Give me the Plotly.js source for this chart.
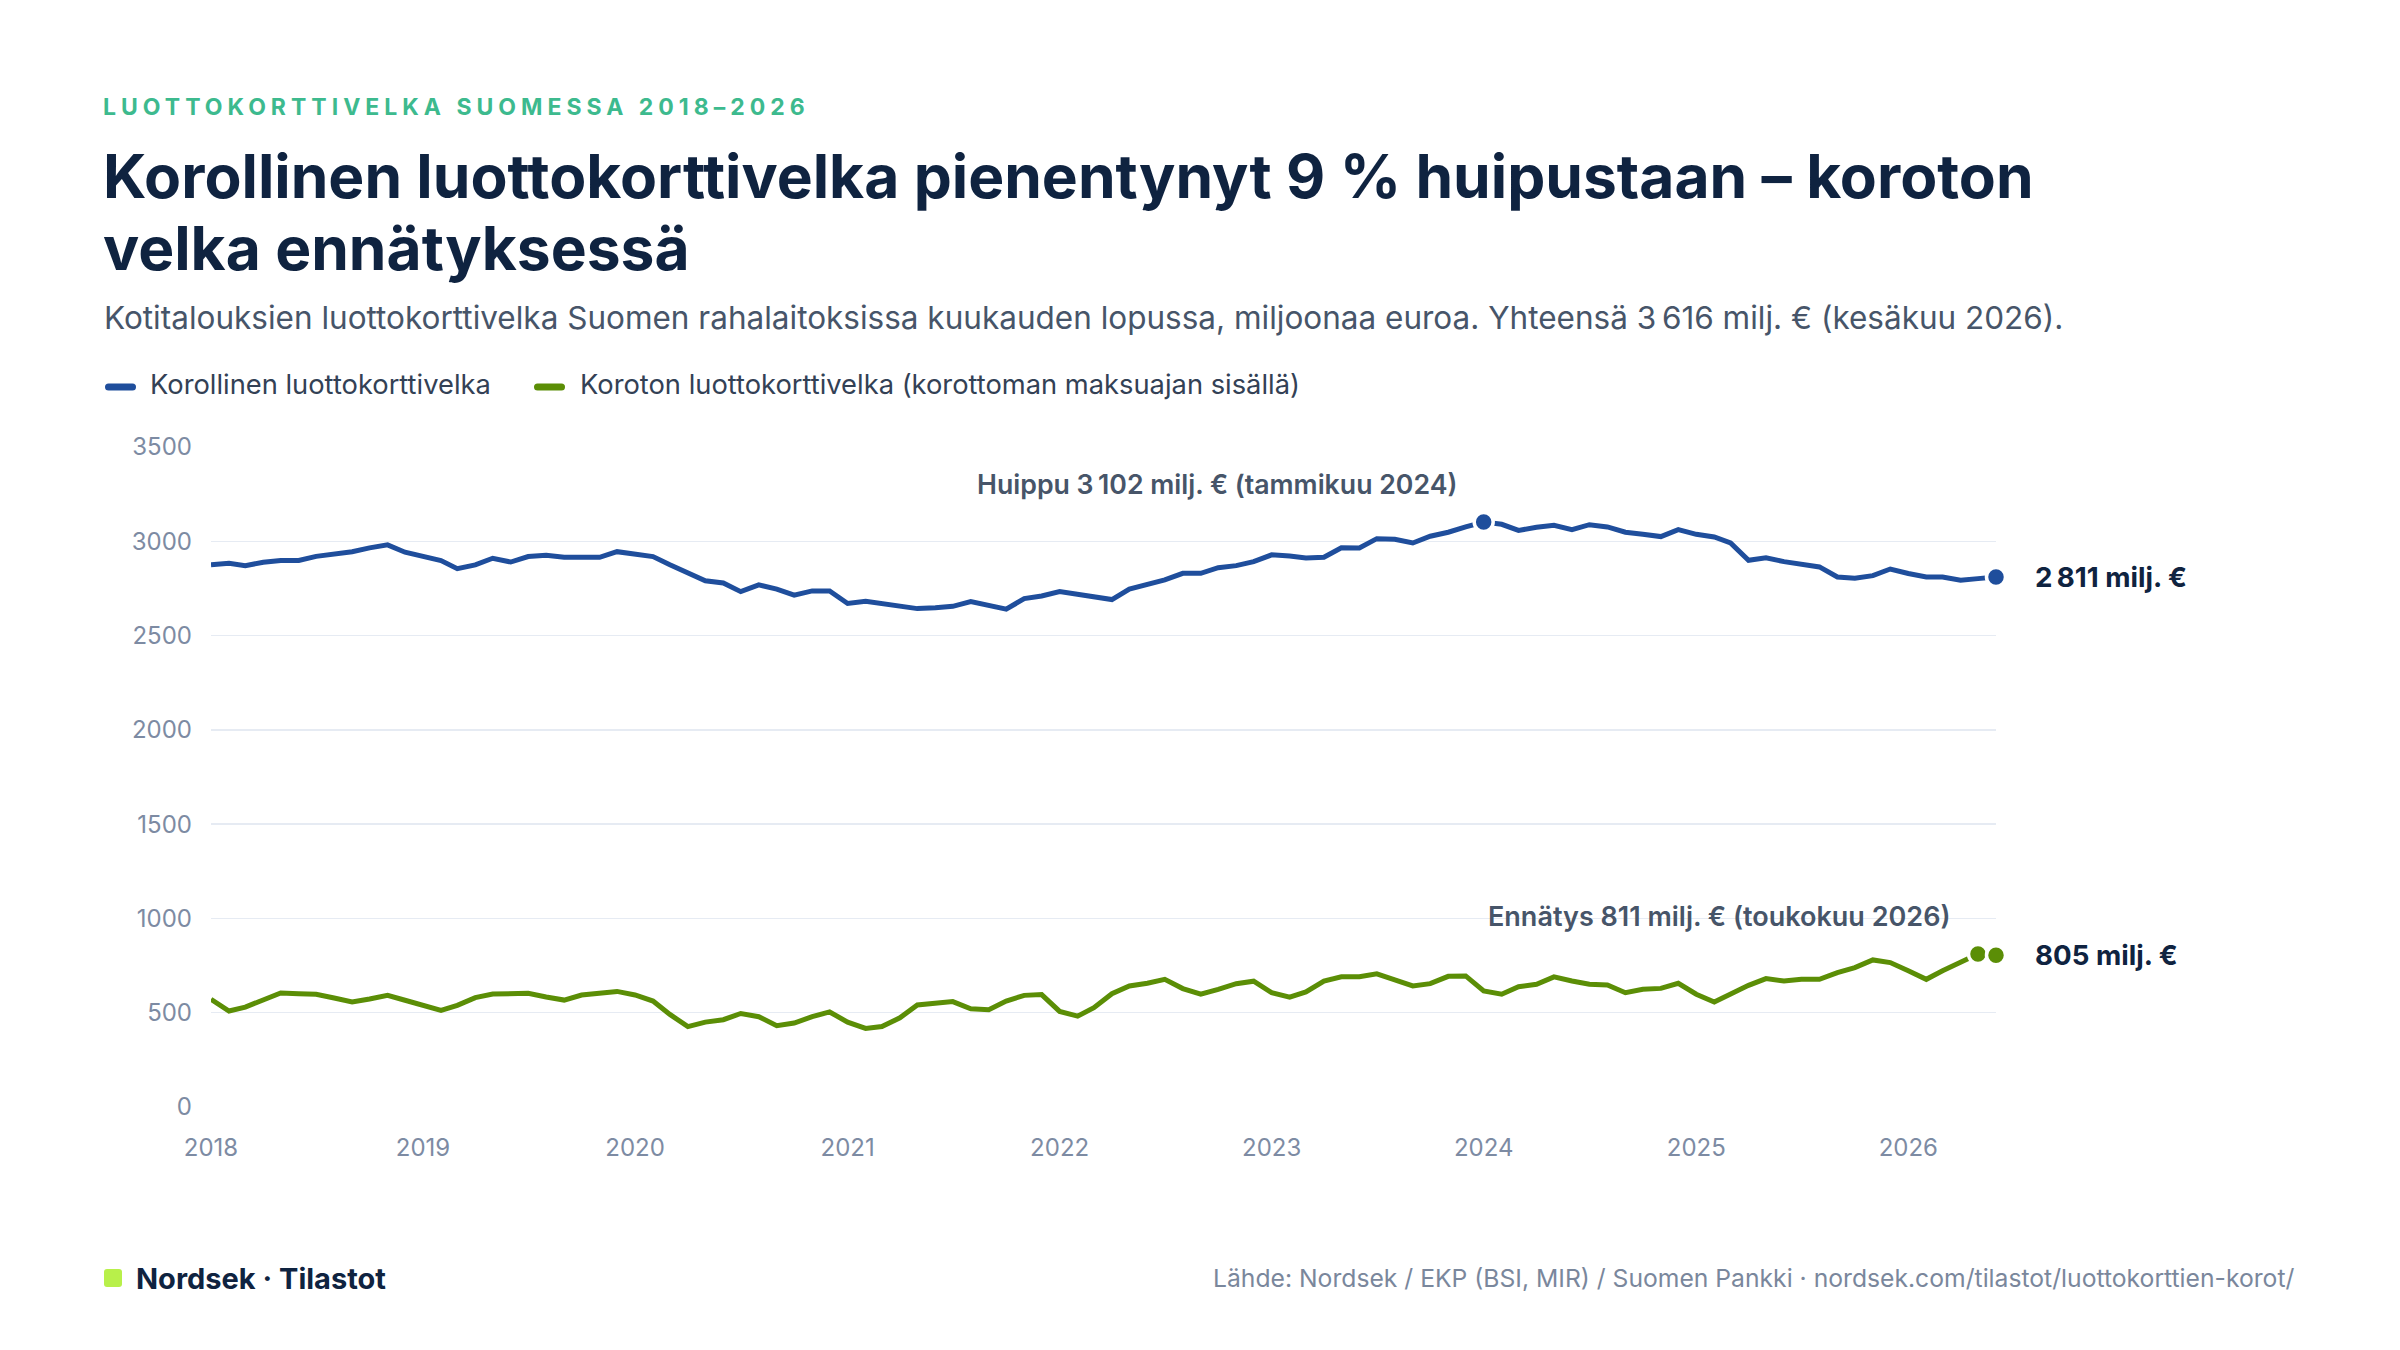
<!DOCTYPE html>
<html>
<head>
<meta charset="utf-8">
<script src="https://cdn.plot.ly/plotly-3.0.1.min.js"></script>
<style>
  html, body { margin: 0; padding: 0; background: #ffffff; }
  #chart { width: 2400px; height: 1350px; }
  .annotation[data-index="0"] text { letter-spacing: 5px; }
</style>
</head>
<body>
<div id="chart"></div>
<script>
// ---- Data (monthly, end of month, million EUR) ----
var startYear = 2018, startMonth = 1, monthCount = 102;  // 2018-01 ... 2026-06
var months = [];
for (var i = 0; i < monthCount; i++) {
  var y = startYear + Math.floor((startMonth - 1 + i) / 12);
  var m = ((startMonth - 1 + i) % 12) + 1;
  months.push(y + '-' + (m < 10 ? '0' + m : m) + '-01');
}

var interestBearing = [
  2876, 2883, 2871, 2889, 2898, 2898, 2920, 2931, 2945, 2965, 2981, 2942,
  2917, 2898, 2855, 2875, 2910, 2890, 2919, 2926, 2915, 2912, 2915, 2945,
  2929, 2919, 2876, 2830, 2791, 2779, 2733, 2769, 2746, 2714, 2737, 2737,
  2670, 2682, 2668, 2652, 2643, 2647, 2655, 2680, 2661, 2640, 2696, 2710,
  2733, 2719, 2705, 2691, 2747, 2769, 2795, 2830, 2830, 2860, 2871, 2892,
  2928, 2922, 2912, 2915, 2966, 2965, 3014, 3011, 2991, 3027, 3048, 3076,
  3102, 3090, 3058, 3074, 3085, 3062, 3088, 3076, 3048, 3037, 3025, 3062,
  3037, 3023, 2991, 2899, 2913, 2892, 2875, 2864, 2811, 2804, 2818, 2853,
  2829, 2811, 2811, 2793, 2802, 2811
];

var interestFree = [
  571, 509, 530, 571, 605, 601, 598, 578, 557, 573, 592, 566,
  539, 512, 539, 580, 599, 601, 603, 583, 567, 594, 606, 613,
  594, 562, 491, 426, 450, 463, 496, 479, 431, 445, 479, 504,
  450, 417, 427, 473, 541, 553, 559, 521, 516, 562, 592, 596,
  507, 482, 527, 601, 642, 656, 677, 628, 598, 624, 654, 667,
  606, 583, 610, 668, 691, 691, 706, 674, 642, 654, 693, 695,
  615, 598, 638, 651, 690, 668, 651, 647, 606, 624, 629, 656,
  598, 557, 601, 645, 681, 668, 677, 677, 713, 739, 780, 766,
  722, 677, 722, 766, 811, 805
];

var seriesNames = ['Korollinen luottokorttivelka', 'Koroton luottokorttivelka (korottoman maksuajan sisällä)'];
var monthNamesFi = ['tammikuu','helmikuu','maaliskuu','huhtikuu','toukokuu','kesäkuu','heinäkuu','elokuu','syyskuu','lokakuu','marraskuu','joulukuu'];
var yTicks = [0, 500, 1000, 1500, 2000, 2500, 3000, 3500];

// ---- Derived ----
function fmt(v) {
  var s = String(Math.round(v));
  return s.length > 3 ? s.slice(0, s.length - 3) + '\u202f' + s.slice(-3) : s;
}
function monthLabel(d) {
  var p = d.split('-');
  return monthNamesFi[parseInt(p[1], 10) - 1] + ' ' + p[0];
}
var last = monthCount - 1;
var peakIdx = interestBearing.indexOf(Math.max.apply(null, interestBearing));
var recIdx = interestFree.indexOf(Math.max.apply(null, interestFree));
var total = interestBearing[last] + interestFree[last];

var BLUE = '#1f4e9c', GREEN = '#5b8e06', NAVY = '#0f2340', SLATE = '#475569', TICK = '#7d8ba3';
var FONT = 'Inter, "Noto Sans", sans-serif';

// plot area in pixels
var L = 211, R = 1996, T = 447, B = 1107;
function px(xp) { return (xp - L) / (R - L); }
function py(yp) { return (B - yp) / (B - T); }

// rounded rectangle path in paper coordinates (pixel inputs)
function roundRect(x0, y0, x1, y1, r) {
  var X0 = px(x0), X1 = px(x1), Y0 = py(y1), Y1 = py(y0);
  var rx = r / (R - L), ry = r / (B - T);
  return 'M' + (X0 + rx) + ',' + Y0 + ' L' + (X1 - rx) + ',' + Y0 + ' Q' + X1 + ',' + Y0 + ' ' + X1 + ',' + (Y0 + ry) +
    ' L' + X1 + ',' + (Y1 - ry) + ' Q' + X1 + ',' + Y1 + ' ' + (X1 - rx) + ',' + Y1 +
    ' L' + (X0 + rx) + ',' + Y1 + ' Q' + X0 + ',' + Y1 + ' ' + X0 + ',' + (Y1 - ry) +
    ' L' + X0 + ',' + (Y0 + ry) + ' Q' + X0 + ',' + Y0 + ' ' + (X0 + rx) + ',' + Y0 + ' Z';
}

var traces = [
  { x: months, y: interestBearing, type: 'scatter', mode: 'lines', name: seriesNames[0],
    line: { color: BLUE, width: 5 } },
  { x: months, y: interestFree, type: 'scatter', mode: 'lines', name: seriesNames[1],
    line: { color: GREEN, width: 5 } },
  { x: [months[peakIdx], months[last]], y: [interestBearing[peakIdx], interestBearing[last]],
    type: 'scatter', mode: 'markers', cliponaxis: false,
    marker: { color: BLUE, size: 19, line: { color: '#ffffff', width: 3.5 } } },
  { x: [months[recIdx], months[last]], y: [interestFree[recIdx], interestFree[last]],
    type: 'scatter', mode: 'markers', cliponaxis: false,
    marker: { color: GREEN, size: 19, line: { color: '#ffffff', width: 3.5 } } }
];

var legendFont = { family: FONT, size: 27.3, color: '#334155' };

var annotations = [
  { xref: 'paper', yref: 'paper', x: px(191), y: py(107), xanchor: 'left', yanchor: 'middle',
    text: '<b>LUOTTOKORTTIVELKA SUOMESSA 2018–2026</b>', showarrow: false,
    font: { family: FONT, size: 23, color: '#3dba8e' } },
  { xref: 'paper', yref: 'paper', x: px(101), y: py(176), xanchor: 'left', yanchor: 'middle',
    text: 'Korollinen luottokorttivelka pienentynyt 9 % huipustaan – koroton', showarrow: false,
    font: { family: FONT, size: 60.5, color: NAVY, weight: 700 } },
  { xref: 'paper', yref: 'paper', x: px(101), y: py(248), xanchor: 'left', yanchor: 'middle',
    text: 'velka ennätyksessä', showarrow: false,
    font: { family: FONT, size: 60.5, color: NAVY, weight: 700 } },
  { xref: 'paper', yref: 'paper', x: px(102), y: py(317), xanchor: 'left', yanchor: 'middle',
    text: 'Kotitalouksien luottokorttivelka Suomen rahalaitoksissa kuukauden lopussa, miljoonaa euroa. Yhteensä ' +
          fmt(total) + ' milj. € (' + monthLabel(months[last]) + ').', showarrow: false,
    font: { family: FONT, size: 31.5, color: SLATE } },
  // legend texts
  { xref: 'paper', yref: 'paper', x: px(148), y: py(384), xanchor: 'left', yanchor: 'middle',
    text: seriesNames[0], showarrow: false, font: legendFont },
  { xref: 'paper', yref: 'paper', x: px(578), y: py(384), xanchor: 'left', yanchor: 'middle',
    text: seriesNames[1], showarrow: false, font: legendFont },
  { xref: 'x', yref: 'y', x: months[peakIdx], y: interestBearing[peakIdx], xanchor: 'right', yanchor: 'middle',
    xshift: -25, yshift: 38, showarrow: false,
    text: 'Huippu ' + fmt(interestBearing[peakIdx]) + ' milj. € (' + monthLabel(months[peakIdx]) + ')',
    font: { family: FONT, size: 26.7, color: SLATE, weight: 600 } },
  { xref: 'x', yref: 'y', x: months[recIdx], y: interestFree[recIdx], xanchor: 'right', yanchor: 'middle',
    xshift: -25, yshift: 38, showarrow: false,
    text: 'Ennätys ' + fmt(interestFree[recIdx]) + ' milj. € (' + monthLabel(months[recIdx]) + ')',
    font: { family: FONT, size: 27, color: SLATE, weight: 600 } },
  { xref: 'x', yref: 'y', x: months[last], y: interestBearing[last], xanchor: 'left', yanchor: 'middle',
    xshift: 37, showarrow: false, text: fmt(interestBearing[last]) + ' milj. €',
    font: { family: FONT, size: 27.7, color: NAVY, weight: 700 } },
  { xref: 'x', yref: 'y', x: months[last], y: interestFree[last], xanchor: 'left', yanchor: 'middle',
    xshift: 37, showarrow: false, text: fmt(interestFree[last]) + ' milj. €',
    font: { family: FONT, size: 27.7, color: NAVY, weight: 700 } },
  { xref: 'paper', yref: 'paper', x: px(134), y: py(1278), xanchor: 'left', yanchor: 'middle',
    text: 'Nordsek · Tilastot', showarrow: false,
    font: { family: FONT, size: 29, color: NAVY, weight: 700 } },
  { xref: 'paper', yref: 'paper', x: px(2296), y: py(1278), xanchor: 'right', yanchor: 'middle',
    text: 'Lähde: Nordsek / EKP (BSI, MIR) / Suomen Pankki · nordsek.com/tilastot/luottokorttien-korot/', showarrow: false,
    font: { family: FONT, size: 24.7, color: '#7a879c' } }
];

var shapes = [
  { type: 'line', xref: 'x', yref: 'y', xsizemode: 'pixel', xanchor: months[last], x0: 13, x1: 28,
    y0: interestBearing[last], y1: interestBearing[last], line: { color: '#dfe5ee', width: 2.5 } },
  { type: 'line', xref: 'x', yref: 'y', xsizemode: 'pixel', xanchor: months[last], x0: 13, x1: 28,
    y0: interestFree[last], y1: interestFree[last], line: { color: '#dfe5ee', width: 2.5 } },
  // legend swatches
  { type: 'path', xref: 'paper', yref: 'paper', path: roundRect(105, 383.5, 136, 390.5, 3.5),
    fillcolor: BLUE, line: { width: 0 } },
  { type: 'path', xref: 'paper', yref: 'paper', path: roundRect(534, 383.5, 565, 390.5, 3.5),
    fillcolor: GREEN, line: { width: 0 } },
  // footer logo square
  { type: 'path', xref: 'paper', yref: 'paper', path: roundRect(104, 1269, 122, 1287, 3),
    fillcolor: '#b8f04a', line: { width: 0 } }
];

var layout = {
  width: 2400, height: 1350,
  margin: { l: L, r: 2400 - R, t: T, b: 1350 - B, pad: 0 },
  paper_bgcolor: '#ffffff', plot_bgcolor: '#ffffff',
  font: { family: FONT, color: SLATE },
  showlegend: false,
  xaxis: { type: 'date', range: [months[0], months[last]], tick0: months[0], dtick: 'M12', tickformat: '%Y',
    showgrid: false, zeroline: false, showline: false, ticks: '', ticklabelstandoff: 24,
    tickfont: { family: FONT, size: 24, color: TICK }, fixedrange: true },
  yaxis: { range: [0, 3500], tickvals: yTicks, ticktext: yTicks.map(String), showgrid: true,
    gridcolor: '#e6ebf3', gridwidth: 1.5, zeroline: false, showline: false, ticks: '', ticklabelstandoff: 18,
    tickfont: { family: FONT, size: 24, color: TICK }, fixedrange: true },
  annotations: annotations,
  shapes: shapes,
  hovermode: false
};

Plotly.newPlot('chart', traces, layout, { displayModeBar: false, staticPlot: true });
</script>
</body>
</html>
